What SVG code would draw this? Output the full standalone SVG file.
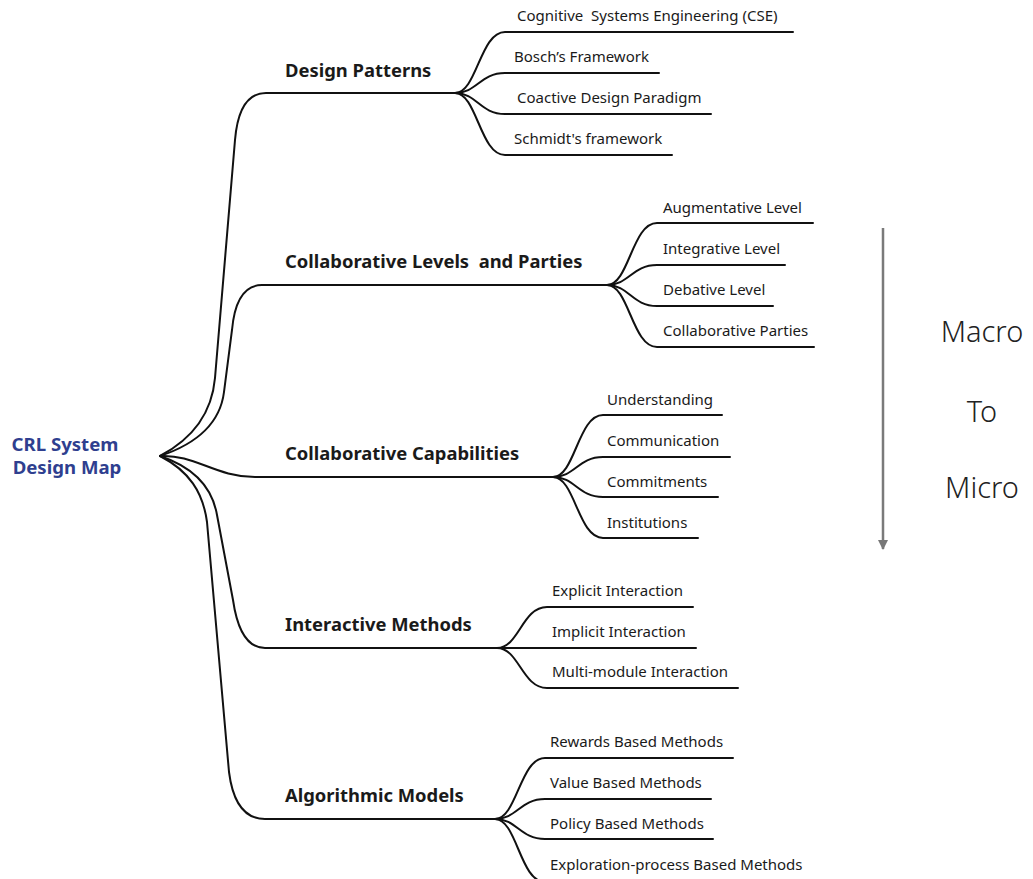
<svg xmlns="http://www.w3.org/2000/svg" width="1033" height="879" viewBox="0 0 1033 879">
<style>
.ln{fill:none;stroke:#111;stroke-width:2;stroke-linecap:round}
.root{font-family:"Noto Sans","Liberation Sans",sans-serif;font-weight:700;font-size:18.6px;fill:#2f3f8f;text-anchor:middle}
.br{font-family:"Noto Sans","Liberation Sans",sans-serif;font-weight:700;font-size:18.4px;fill:#1a1a1a;white-space:pre}
.lf{font-family:"Noto Sans","Liberation Sans",sans-serif;font-weight:400;font-size:15px;fill:#1a1a1a;white-space:pre}
.side{font-family:"Noto Sans","Liberation Sans",sans-serif;font-weight:300;font-size:29px;fill:#222;text-anchor:middle}
</style>
<defs>
<marker id="ah" viewBox="0 0 10 10" refX="9" refY="5" markerWidth="4" markerHeight="4" orient="auto" markerUnits="strokeWidth">
<path d="M0,0 L10,5 L0,10 z" fill="#777"/>
</marker>
</defs>
<rect width="1033" height="879" fill="#fff"/>
<g id="connectors">
<path class="ln" d="M160,456 C194,438 212,412 215,378 L235,140 Q239,93 266,93 L455,93"/>
<path class="ln" d="M160,456 C196,444 220,424 224,392 L232,330 Q236,285 262,285 L607,285"/>
<path class="ln" d="M160,456 C195,454 215,477 255,477 L553,477"/>
<path class="ln" d="M160,456 C193,467 212,486 217,515 L233,600 Q240,648 265,648 L497,648"/>
<path class="ln" d="M160,456 C189,471 203,492 207,522 L229,772 Q235,819 265,819 L495,819"/>
<path class="ln" d="M455,93 C477,93 480,32 505,32 L793,32"/>
<path class="ln" d="M455,93 C477,93 480,73 505,73 L659,73"/>
<path class="ln" d="M455,93 C477,93 480,114 505,114 L711,114"/>
<path class="ln" d="M455,93 C477,93 480,155 505,155 L672,155"/>
<path class="ln" d="M607,285 C629,285 632,223 657,223 L813,223"/>
<path class="ln" d="M607,285 C629,285 632,265 657,265 L785,265"/>
<path class="ln" d="M607,285 C629,285 632,306 657,306 L773,306"/>
<path class="ln" d="M607,285 C629,285 632,347 657,347 L814,347"/>
<path class="ln" d="M553,477 C575,477 578,415 603,415 L722,415"/>
<path class="ln" d="M553,477 C575,477 578,457 603,457 L730,457"/>
<path class="ln" d="M553,477 C575,477 578,497 603,497 L718,497"/>
<path class="ln" d="M553,477 C575,477 578,538 603,538 L698,538"/>
<path class="ln" d="M497,648 C519,648 522,607 547,607 L693,607"/>
<path class="ln" d="M497,648 L696,648"/>
<path class="ln" d="M497,648 C519,648 522,688 547,688 L738,688"/>
<path class="ln" d="M495,819 C517,819 520,758 545,758 L733,758"/>
<path class="ln" d="M495,819 C517,819 520,799 545,799 L711,799"/>
<path class="ln" d="M495,819 C517,819 520,839 545,839 L713,839"/>
<path class="ln" d="M495,819 C517,819 520,882 545,882 L800,882"/>
<line x1="883" y1="228" x2="883" y2="549" stroke="#7a7a7a" stroke-width="2.5" marker-end="url(#ah)"/>
</g>
<g id="root"><text class="root" x="65" y="451">CRL System</text><text class="root" x="67" y="474">Design Map</text></g>
<g id="design-patterns"><text class="br" x="285" y="77">Design Patterns</text></g>
<g id="cse"><text class="lf" x="517" y="21">Cognitive  Systems Engineering (CSE)</text></g>
<g id="bosch"><text class="lf" x="514" y="62">Bosch’s Framework</text></g>
<g id="coactive"><text class="lf" x="517" y="103">Coactive Design Paradigm</text></g>
<g id="schmidt"><text class="lf" x="514" y="144">Schmidt's framework</text></g>
<g id="levels"><text class="br" x="285" y="268">Collaborative Levels  and Parties</text></g>
<g id="augmentative"><text class="lf" x="663" y="213">Augmentative Level</text></g>
<g id="integrative"><text class="lf" x="663" y="254">Integrative Level</text></g>
<g id="debative"><text class="lf" x="663" y="295">Debative Level</text></g>
<g id="parties"><text class="lf" x="663" y="336">Collaborative Parties</text></g>
<g id="capabilities"><text class="br" x="285" y="460">Collaborative Capabilities</text></g>
<g id="understanding"><text class="lf" x="607" y="405">Understanding</text></g>
<g id="communication"><text class="lf" x="607" y="446">Communication</text></g>
<g id="commitments"><text class="lf" x="607" y="487">Commitments</text></g>
<g id="institutions"><text class="lf" x="607" y="528">Institutions</text></g>
<g id="interactive"><text class="br" x="285" y="631">Interactive Methods</text></g>
<g id="explicit"><text class="lf" x="552" y="596">Explicit Interaction</text></g>
<g id="implicit"><text class="lf" x="552" y="637">Implicit Interaction</text></g>
<g id="multimodule"><text class="lf" x="552" y="677">Multi-module Interaction</text></g>
<g id="algorithmic"><text class="br" x="285" y="802">Algorithmic Models</text></g>
<g id="rewards"><text class="lf" x="550" y="747">Rewards Based Methods</text></g>
<g id="value"><text class="lf" x="550" y="788">Value Based Methods</text></g>
<g id="policy"><text class="lf" x="550" y="829">Policy Based Methods</text></g>
<g id="exploration"><text class="lf" x="550" y="870">Exploration-process Based Methods</text></g>
<g id="macro-micro"><text class="side" x="982" y="342">Macro</text><text class="side" x="982" y="422">To</text><text class="side" x="982" y="498">Micro</text></g>
</svg>
